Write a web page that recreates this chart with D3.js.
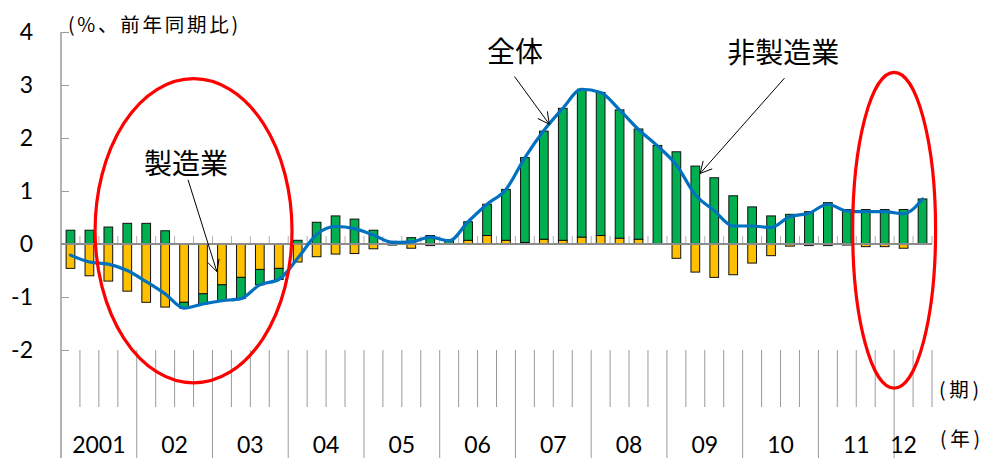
<!DOCTYPE html>
<html>
<head>
<meta charset="utf-8">
<script src="https://cdn.jsdelivr.net/npm/d3@7"></script>
<style>
  html, body { margin: 0; padding: 0; background: #fff; }
  svg { display: block; }
</style>
</head>
<body>
<svg id="chart" width="983" height="458"></svg>
<script>
// Quarterly categories, 2001Q1 – 2012Q2
const quarters = [
  "2001Q1","2001Q2","2001Q3","2001Q4",
  "2002Q1","2002Q2","2002Q3","2002Q4",
  "2003Q1","2003Q2","2003Q3","2003Q4",
  "2004Q1","2004Q2","2004Q3","2004Q4",
  "2005Q1","2005Q2","2005Q3","2005Q4",
  "2006Q1","2006Q2","2006Q3","2006Q4",
  "2007Q1","2007Q2","2007Q3","2007Q4",
  "2008Q1","2008Q2","2008Q3","2008Q4",
  "2009Q1","2009Q2","2009Q3","2009Q4",
  "2010Q1","2010Q2","2010Q3","2010Q4",
  "2011Q1","2011Q2","2011Q3","2011Q4",
  "2012Q1","2012Q2"
];

// Year-on-year change (%) and its split by sector
const manufacturing = [
  -0.46, -0.60, -0.70, -0.89,
  -1.10, -1.19, -1.10, -0.94,
  -0.77, -0.63, -0.48, -0.46,
  -0.34, -0.24, -0.19, -0.18,
  -0.09, -0.02, -0.08, -0.03,
   0.00,  0.07,  0.16,  0.07,
   0.03,  0.09,  0.07,  0.13,
   0.16,  0.11,  0.09,  0.00,
  -0.27, -0.53, -0.63, -0.58,
  -0.36, -0.22, -0.04, -0.03,
  -0.03, -0.02, -0.05, -0.05,
  -0.08,  0.01
];
const nonManufacturing = [
   0.26,  0.26,  0.32,  0.39,
   0.39,  0.25, -0.11, -0.19,
  -0.30, -0.40, -0.29, -0.21,
   0.07,  0.41,  0.53,  0.47,
   0.26,  0.05,  0.12,  0.16,
   0.08,  0.35,  0.59,  0.96,
   1.60,  2.04,  2.49,  2.79,
   2.70,  2.42,  2.08,  1.86,
   1.74,  1.47,  1.25,  0.91,
   0.70,  0.53,  0.56,  0.61,
   0.78,  0.65,  0.65,  0.65,
   0.65,  0.84
];
const total = [
  -0.21, -0.34, -0.38, -0.50,
  -0.71, -0.94, -1.21, -1.13,
  -1.07, -1.03, -0.77, -0.67,
  -0.27,  0.18,  0.33,  0.29,
   0.17,  0.03,  0.04,  0.13,
   0.06,  0.42,  0.75,  1.03,
   1.63,  2.14,  2.56,  2.92,
   2.86,  2.53,  2.16,  1.85,
   1.49,  0.93,  0.63,  0.34,
   0.34,  0.31,  0.52,  0.58,
   0.75,  0.62,  0.61,  0.61,
   0.57,  0.85
];

const yearLabels = ["2001","02","03","04","05","06","07","08","09","10","11","12"];
const yTicks = [-2, -1, 0, 1, 2, 3, 4];

const svg = d3.select("#chart");
const plotLeft = 61, plotRight = 932, yTop = 32, yBottom = 350;
const quarterLineEnd = 407, yearLineEnd = 458;

const x = d3.scaleBand().domain(quarters).range([plotLeft, plotRight])
  .paddingInner(0.54).paddingOuter(0.27);
const step = x.step();
const qx = q => plotLeft + q * step;          // position of a quarter boundary (fractional allowed)
const cx = i => x(quarters[i]) + x.bandwidth() / 2;
const y = d3.scaleLinear().domain([-2, 4]).range([yBottom, yTop]);

const gray = "#9a9a9a";
const numFont = "Lato, 'Noto Sans CJK JP', sans-serif";
const jpFont = "'Noto Sans CJK JP', sans-serif";

// Lower category band: quarter and year separators
const boundaries = d3.range(1, quarters.length + 1);
svg.append("g").selectAll("line").data(boundaries).join("line")
  .attr("x1", d => qx(d)).attr("x2", d => qx(d))
  .attr("y1", y(-2))
  .attr("y2", d => (d % 4 === 0 && d < quarters.length) ? yearLineEnd : quarterLineEnd)
  .attr("stroke", gray).attr("stroke-width", 1);

// Y axis
const yAxis = d3.axisLeft(y).tickValues(yTicks).tickSize(-8).tickPadding(28)
  .tickFormat(d => String(d));
const gy = svg.append("g").attr("transform", `translate(${plotLeft},0)`).call(yAxis);
gy.select(".domain").remove();
gy.selectAll(".tick line").attr("stroke", gray);
gy.selectAll(".tick text").attr("font-family", numFont).attr("font-size", 23)
  .attr("fill", "#000");
svg.append("line").attr("x1", plotLeft).attr("x2", plotLeft)
  .attr("y1", y(4)).attr("y2", yearLineEnd).attr("stroke", gray).attr("stroke-width", 1.5);

// Stacked contributions
const rows = quarters.map((q, i) => ({ q, mfg: manufacturing[i], non: nonManufacturing[i] }));
const stack = d3.stack().keys(["mfg", "non"]).offset(d3.stackOffsetDiverging);
const series = stack(rows);
const fills = { mfg: "#FFC000", non: "#00B050" };
svg.append("g").selectAll("g").data(series).join("g")
  .attr("fill", s => fills[s.key])
  .selectAll("rect").data(s => s).join("rect")
  .attr("x", d => x(d.data.q))
  .attr("width", x.bandwidth())
  .attr("y", d => y(Math.max(d[0], d[1])))
  .attr("height", d => Math.abs(y(d[0]) - y(d[1])))
  .attr("stroke", "#111").attr("stroke-width", 1);

// Category axis at zero with inward ticks
const zeroY = y(0);
svg.append("g").selectAll("line").data(d3.range(0, quarters.length + 1)).join("line")
  .attr("x1", d => qx(d)).attr("x2", d => qx(d))
  .attr("y1", zeroY - 8).attr("y2", zeroY)
  .attr("stroke", "#b0b0b0").attr("stroke-width", 1);
svg.append("line").attr("x1", plotLeft).attr("x2", plotRight)
  .attr("y1", zeroY).attr("y2", zeroY)
  .attr("stroke", "#8c8c8c").attr("stroke-width", 2);

// Year labels
svg.append("g").selectAll("text").data(yearLabels).join("text")
  .attr("x", (d, j) => {
    const start = j * 4, n = Math.min(4, quarters.length - start);
    return n === 4 ? qx(start + 2) : cx(start);
  })
  .attr("y", 453)
  .attr("text-anchor", "middle")
  .attr("font-family", numFont).attr("font-size", 23).attr("fill", "#000")
  .text(d => d);

// Total line
const line = d3.line().x((d, i) => cx(i)).y(d => y(d)).curve(d3.curveMonotoneX);
svg.append("path").datum(total)
  .attr("d", line).attr("fill", "none")
  .attr("stroke", "#0070C0").attr("stroke-width", 3.2)
  .attr("stroke-linejoin", "round").attr("stroke-linecap", "round");

// Highlight ellipses (centre quarter, half-width in quarters, centre value, half-height in %pt)
const highlights = [
  { q: 7, dq: 5.2, v: 0.25, dv: 2.87 },
  { q: 44, dq: 2.19, v: 0.26, dv: 2.98 }
];
svg.append("g").selectAll("ellipse").data(highlights).join("ellipse")
  .attr("cx", d => qx(d.q)).attr("cy", d => y(d.v))
  .attr("rx", d => d.dq * step).attr("ry", d => y(0) - y(d.dv))
  .attr("fill", "none").attr("stroke", "#FF0000").attr("stroke-width", 3.2);

// Annotations with arrows
const notes = [
  { text: "製造業",   tq: 6.6,  tv: 1.55, from: [6.71, 1.21],  to: [8.23, -0.52] },
  { text: "全体",     tq: 23.98, tv: 3.66, from: [23.95, 3.16], to: [25.79, 2.26] },
  { text: "非製造業", tq: 38.14, tv: 3.64, from: [38.21, 3.13], to: [33.75, 1.33] }
];
const ng = svg.append("g");
notes.forEach(n => {
  const x1 = qx(n.from[0]), y1 = y(n.from[1]);
  const x2 = qx(n.to[0]), y2 = y(n.to[1]);
  ng.append("line").attr("x1", x1).attr("y1", y1).attr("x2", x2).attr("y2", y2)
    .attr("stroke", "#000").attr("stroke-width", 1);
  const ang = Math.atan2(y1 - y2, x1 - x2);
  const len = 13, spread = 0.48;
  const p = a => [x2 + len * Math.cos(a), y2 + len * Math.sin(a)];
  const b1 = p(ang - spread), b2 = p(ang + spread);
  ng.append("path")
    .attr("d", `M${b1[0]},${b1[1]}L${x2},${y2}L${b2[0]},${b2[1]}`)
    .attr("fill", "none").attr("stroke", "#000").attr("stroke-width", 1);
  ng.append("text").attr("x", qx(n.tq)).attr("y", y(n.tv))
    .attr("text-anchor", "middle").attr("dominant-baseline", "central")
    .attr("font-family", jpFont).attr("font-size", 28).attr("fill", "#000")
    .text(n.text);
});

// Unit label and axis captions
svg.append("text").attr("x", 68).attr("y", 32)
  .attr("font-family", jpFont).attr("font-size", 19.5).attr("fill", "#000")
  .attr("textLength", 170).attr("lengthAdjust", "spacing")
  .text("(%、前年同期比)");
svg.append("text").attr("x", 939).attr("y", 397)
  .attr("font-family", jpFont).attr("font-size", 19.5).attr("fill", "#000")
  .attr("textLength", 40).attr("lengthAdjust", "spacing")
  .text("(期)");
svg.append("text").attr("x", 940).attr("y", 446)
  .attr("font-family", jpFont).attr("font-size", 19.5).attr("fill", "#000")
  .attr("textLength", 40).attr("lengthAdjust", "spacing")
  .text("(年)");
</script>
</body>
</html>
